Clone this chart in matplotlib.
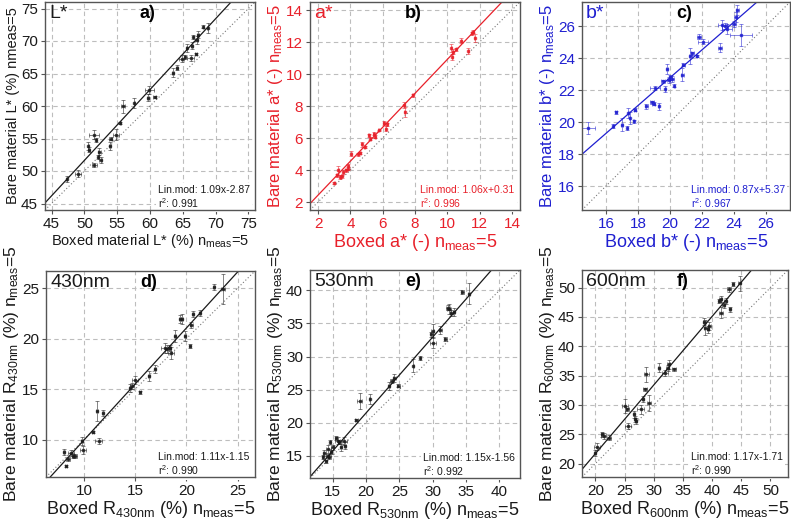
import matplotlib
matplotlib.use('Agg')
import matplotlib.pyplot as plt
import numpy as np

plt.rcParams['font.family'] = ['Liberation Sans', 'DejaVu Sans']
plt.rcParams['mathtext.default'] = 'regular'

# a) L*
a_x = [47.3, 49.0, 50.6, 50.7, 51.5, 51.5, 51.8, 52.3, 52.5, 52.1, 53.9, 54.0, 54.8, 55.5, 55.9, 57.6,
       59.7, 59.9, 60.7, 63.5, 64.1, 64.8, 65.3, 65.6, 66.2, 66.4, 66.6, 67.1, 67.0, 67.3, 68.1, 68.8]
a_y = [48.8, 49.6, 53.8, 53.3, 50.9, 55.6, 54.8, 53.0, 51.7, 52.2, 53.8, 55.0, 55.6, 57.4, 60.0, 60.5,
       61.3, 62.5, 61.4, 65.1, 65.9, 67.3, 67.6, 68.9, 67.4, 69.3, 70.6, 70.2, 68.0, 71.0, 72.2, 72.0]
a_xe = [0.1, 0.5, 0.1, 0.1, 0.4, 0.8, 0.1, 0.2, 0.2, 0.1, 0.2, 0.2, 0.5, 0.1, 0.3, 0.1,
        0.2, 0.7, 0.2, 0.1, 0.1, 0.4, 0.1, 0.1, 0.5, 0.1, 0.1, 0.2, 0.1, 0.2, 0.1, 0.1]
a_ye = [0.5, 0.5, 0.6, 0.4, 0.3, 0.7, 0.3, 0.6, 0.4, 0.3, 0.6, 0.3, 0.9, 0.2, 1.0, 0.8,
        0.5, 0.6, 0.1, 0.7, 0.4, 0.6, 0.3, 0.6, 0.4, 0.6, 0.3, 0.6, 0.2, 0.5, 0.2, 0.8]

# b) a*
b_x = [3.0, 3.15, 3.25, 3.36, 3.46, 3.57, 3.71, 3.88, 3.84, 4.05, 4.5, 4.6, 4.71, 4.88, 5.13, 5.24, 5.44,
       5.55, 5.76, 6.07, 6.18, 6.28, 7.32, 7.37, 7.85, 10.25, 10.3, 10.35, 10.56, 10.87, 11.29, 11.5, 11.6, 11.71]
b_y = [3.19, 3.67, 3.98, 3.56, 3.6, 3.87, 3.98, 4.23, 4.08, 5.02, 4.98, 5.06, 5.6, 5.44, 6.17, 5.96, 6.28,
       6.07, 6.48, 6.94, 6.59, 6.86, 8.05, 7.63, 8.68, 11.6, 11.08, 11.39, 11.54, 12.08, 11.45, 12.54, 12.64, 12.23]
b_xe = [0.03] * 34
b_ye = [0.05, 0.1, 0.3, 0.1, 0.1, 0.1, 0.1, 0.15, 0.1, 0.15, 0.08, 0.08, 0.15, 0.08, 0.1, 0.1, 0.1,
        0.1, 0.05, 0.1, 0.15, 0.1, 0.2, 0.3, 0.1, 0.25, 0.2, 0.15, 0.1, 0.15, 0.2, 0.1, 0.1, 0.25]

# c) b*
c_x = [14.89, 16.46, 16.63, 16.99, 17.34, 17.4, 17.47, 17.72, 17.82, 18.52, 18.87, 18.98, 19.08, 19.29,
       19.56, 19.71, 19.82, 19.92, 20.03, 20.13, 20.28, 20.76, 20.82, 21.28, 21.39, 21.66, 21.81, 22.08,
       23.13, 23.27, 23.42, 23.55, 24.0, 24.1, 24.2, 24.43]
c_y = [19.63, 19.75, 20.6, 19.84, 19.63, 20.56, 20.25, 20.05, 20.77, 20.98, 21.23, 21.15, 22.12, 20.98,
       22.54, 22.06, 23.3, 22.64, 22.8, 22.68, 22.27, 22.95, 23.57, 24.13, 24.3, 24.13, 25.34, 25.02,
       24.65, 26.06, 26.0, 25.8, 26.12, 26.58, 27.0, 25.44]
c_xe = [0.4, 0.05, 0.05, 0.05, 0.05, 0.05, 0.05, 0.05, 0.05, 0.1, 0.1, 0.1, 0.3, 0.05,
        0.1, 0.05, 0.05, 0.1, 0.1, 0.1, 0.05, 0.1, 0.1, 0.1, 0.1, 0.05, 0.15, 0.3,
        0.1, 0.3, 0.2, 0.3, 0.1, 0.1, 0.1, 0.7]
c_ye = [0.4, 0.1, 0.1, 0.4, 0.15, 0.3, 0.4, 0.1, 0.1, 0.15, 0.1, 0.1, 0.15, 0.2,
        0.1, 0.2, 0.3, 0.2, 0.15, 0.2, 0.1, 0.4, 0.1, 0.5, 0.1, 0.05, 0.15, 0.15,
        0.3, 0.3, 0.2, 0.3, 0.2, 0.3, 0.3, 0.7]

# d) 430nm
d_x = [8.04, 8.21, 8.43, 8.76, 8.92, 9.15, 9.8, 9.9, 10.85, 11.27, 11.43, 11.86, 14.47, 14.7, 15.02,
       15.44, 16.33, 16.98, 17.96, 18.15, 18.54, 18.38, 18.93, 19.36, 19.62, 19.91, 20.34, 20.5, 20.66,
       21.31, 22.72, 23.6]
d_y = [8.75, 7.43, 8.09, 8.68, 8.35, 8.35, 9.83, 8.94, 10.72, 12.8, 9.83, 12.64, 15.11, 15.34, 15.93,
       14.68, 16.33, 16.99, 19.07, 18.97, 18.57, 19.07, 20.29, 21.93, 21.93, 20.22, 19.23, 21.37, 22.46,
       22.53, 25.1, 24.9]
d_xe = [0.1, 0.1, 0.2, 0.3, 0.1, 0.2, 0.1, 0.3, 0.1, 0.1, 0.3, 0.1, 0.1, 0.2, 0.3,
        0.1, 0.1, 0.1, 0.4, 0.2, 0.3, 0.1, 0.1, 0.1, 0.1, 0.1, 0.1, 0.1, 0.1,
        0.1, 0.1, 0.2]
d_ye = [0.3, 0.1, 0.2, 0.3, 0.2, 0.2, 0.4, 0.4, 0.1, 1.0, 0.3, 0.3, 0.4, 0.3, 0.4,
        0.15, 0.5, 0.4, 0.5, 0.4, 0.6, 0.3, 0.6, 0.4, 0.5, 0.5, 0.2, 0.3, 0.3,
        0.3, 0.3, 1.5]

# e) 530nm
e_x = [13.48, 13.74, 14.0, 14.24, 14.34, 14.49, 14.65, 14.75, 15.0, 15.5, 15.76, 16.0, 16.26, 16.77,
       16.87, 18.54, 19.04, 20.56, 23.43, 23.84, 24.24, 24.85, 27.12, 28.13, 29.8, 30.0, 30.05, 31.16,
       31.92, 32.32, 32.5, 32.8, 33.2, 34.44, 35.45]
e_y = [14.75, 15.4, 14.1, 15.0, 16.0, 14.75, 17.0, 15.5, 16.26, 17.6, 17.26, 17.0, 16.26, 17.26,
       16.5, 20.38, 23.3, 23.55, 25.56, 26.3, 26.8, 25.56, 28.58, 29.84, 33.36, 33.86, 32.1, 33.96,
       32.6, 37.4, 37.2, 36.6, 36.7, 39.75, 39.5]
e_xe = [0.1, 0.2, 0.1, 0.2, 0.4, 0.2, 0.1, 0.2, 0.2, 0.2, 0.4, 0.2, 0.2, 0.4,
        0.2, 0.2, 0.4, 0.1, 0.2, 0.2, 0.2, 0.2, 0.1, 0.1, 0.2, 0.2, 0.4, 0.2,
        0.2, 0.3, 0.3, 0.2, 0.2, 0.2, 0.2]
e_ye = [0.3, 0.5, 0.2, 0.3, 0.6, 0.3, 0.3, 0.3, 0.4, 0.3, 0.5, 0.3, 0.5, 0.6,
        0.5, 0.2, 1.2, 0.8, 0.6, 0.3, 0.6, 0.2, 1.0, 0.3, 0.4, 1.0, 0.8, 0.6,
        0.3, 0.4, 0.7, 0.5, 0.6, 0.3, 1.6]

# f) 600nm
f_x = [19.89, 20.29, 21.15, 21.44, 22.3, 25.06, 25.46, 25.63, 26.61, 26.78, 27.0, 27.76, 28.16, 28.5,
       28.74, 29.2, 30.92, 31.95, 32.36, 32.53, 33.5, 38.68, 38.85, 39.25, 39.54, 41.26, 41.44, 41.55,
       41.95, 42.3, 43.1, 42.87, 43.56, 44.71]
f_y = [21.8, 22.85, 24.96, 24.67, 24.4, 29.8, 29.23, 26.38, 28.37, 27.52, 27.23, 29.23, 30.93, 32.64,
       35.2, 30.36, 36.34, 35.49, 36.34, 36.9, 36.06, 44.14, 43.17, 42.89, 43.45, 47.72, 48.12, 45.73,
       46.98, 47.72, 46.3, 49.72, 50.57, 50.74]
f_xe = [0.2, 0.5, 0.2, 0.4, 0.3, 0.5, 0.3, 0.5, 0.2, 0.2, 0.2, 0.6, 0.2, 0.3,
        0.5, 0.3, 0.2, 0.5, 0.3, 0.3, 0.3, 0.2, 0.3, 0.2, 0.2, 0.2, 0.2, 0.3,
        0.2, 0.3, 0.2, 0.3, 0.2, 0.2]
f_ye = [0.5, 0.6, 0.4, 0.5, 0.4, 1.2, 0.3, 0.5, 0.6, 0.5, 0.5, 0.8, 0.5, 0.3,
        1.3, 1.4, 0.8, 0.5, 0.5, 0.8, 0.2, 0.6, 1.3, 0.6, 0.6, 0.4, 0.5, 1.0,
        0.4, 0.5, 0.4, 0.4, 0.3, 1.3]

RED = '#e8202a'
BLUE = '#1f1fd0'
K = '#1a1a1a'
NM = r'n$_{meas}$=5'

panels = [
    dict(x=a_x, y=a_y, xe=a_xe, ye=a_ye, rect=[45, 2, 210, 208], lim=(44, 76), ticks=range(45, 80, 5),
         c=K, tag='L*', letter='a)', fit=(1.09, -2.87), txt=['Lin.mod: 1.09x-2.87', 'r$^2$: 0.991'],
         xl='Boxed material L* (%) ' + NM, yl='Bare material L* (%) nmeas=5', xfs=10.5, yfs=10.5),
    dict(x=b_x, y=b_y, xe=b_xe, ye=b_ye, rect=[310, 2, 210, 208], lim=(1.5, 14.5), ticks=range(2, 16, 2),
         c=RED, tag='a*', letter='b)', fit=(1.06, 0.31), txt=['Lin.mod: 1.06x+0.31', 'r$^2$: 0.996'],
         xl='Boxed a* (-) ' + NM, yl='Bare material a* (-) ' + NM, xfs=13, yfs=12),
    dict(x=c_x, y=c_y, xe=c_xe, ye=c_ye, rect=[582, 2, 208, 208], lim=(14.5, 27.5), ticks=range(16, 28, 2),
         c=BLUE, tag='b*', letter='c)', fit=(0.87, 5.37), txt=['Lin.mod: 0.87x+5.37', 'r$^2$: 0.967'],
         xl='Boxed b* (-) ' + NM, yl='Bare material b* (-) ' + NM, xfs=13, yfs=12),
    dict(x=d_x, y=d_y, xe=d_xe, ye=d_ye, rect=[46, 271, 209, 206], lim=(6.3, 26.7), ticks=range(10, 30, 5),
         c=K, tag='430nm', letter='d)', fit=(1.11, -1.15), txt=['Lin.mod: 1.11x-1.15', 'r$^2$: 0.990'],
         xl=r'Boxed R$_{430nm}$ (%) ' + NM, yl=r'Bare material R$_{430nm}$ (%) ' + NM, xfs=13, yfs=12.5),
    dict(x=e_x, y=e_y, xe=e_xe, ye=e_ye, rect=[310, 270, 210, 208], lim=(11.6, 43.1), ticks=range(15, 45, 5),
         c=K, tag='530nm', letter='e)', fit=(1.15, -1.56), txt=['Lin.mod: 1.15x-1.56', 'r$^2$: 0.992'],
         xl=r'Boxed R$_{530nm}$ (%) ' + NM, yl=r'Bare material R$_{530nm}$ (%) ' + NM, xfs=13, yfs=12.5),
    dict(x=f_x, y=f_y, xe=f_xe, ye=f_ye, rect=[582, 270, 206, 207], lim=(17.7, 53), ticks=range(20, 55, 5),
         c=K, tag='600nm', letter='f)', fit=(1.17, -1.71), txt=['Lin.mod: 1.17x-1.71', 'r$^2$: 0.990'],
         xl=r'Boxed R$_{600nm}$ (%) ' + NM, yl=r'Bare material R$_{600nm}$ (%) ' + NM, xfs=13, yfs=12.5),
]

W, H = 791, 524
fig = plt.figure(figsize=(W / 100, H / 100), dpi=100)

for p in panels:
    l, t, w, h = p['rect']
    ax = fig.add_axes([l / W, 1 - (t + h) / H, w / W, h / H])
    lo, hi = p['lim']
    ax.set_xlim(lo, hi)
    ax.set_ylim(lo, hi)
    ax.set_xticks(list(p['ticks']))
    ax.set_yticks(list(p['ticks']))
    ax.grid(True, ls=(0, (4, 3)), color='#bdbdbd', lw=0.8)
    ax.set_axisbelow(True)
    for s in ax.spines.values():
        s.set_color('#555555')
        s.set_linewidth(1.0)
        s.set_zorder(5)
    ax.tick_params(length=3, width=0.8, color='#555555', labelsize=11, labelcolor=p['c'], pad=2)

    xx = np.array([lo, hi])
    ax.plot(xx, xx, ls=(0, (1, 2)), color='#777777', lw=0.8)
    ax.plot(xx, p['fit'][0] * xx + p['fit'][1], color=p['c'], lw=0.9)

    ax.errorbar(p['x'], p['y'], xerr=p['xe'], yerr=p['ye'], fmt='s', ms=1.7,
                mfc=p['c'], mec=p['c'], ecolor=p['c'], elinewidth=0.5, capsize=1.5,
                capthick=0.5, alpha=0.75)

    ax.text(0.02, 0.985, p['tag'], transform=ax.transAxes, ha='left', va='top',
            fontsize=14, color=p['c'])
    ax.text(0.49, 0.985, p['letter'], transform=ax.transAxes, ha='center', va='top',
            fontsize=13, fontweight='bold', color='black')
    ax.text(0.975, 0.06, p['txt'][0] + '\n' + p['txt'][1], transform=ax.transAxes, ha='right',
            va='center', multialignment='left', fontsize=7.5, color=p['c'], linespacing=1.15,
            bbox=dict(facecolor='white', edgecolor='none', pad=1.5))

    ax.set_xlabel(p['xl'], fontsize=p['xfs'], color=p['c'], labelpad=1)
    ax.set_ylabel(p['yl'], fontsize=p['yfs'], color=p['c'], labelpad=1)

fig.savefig('out.png', dpi=100)
